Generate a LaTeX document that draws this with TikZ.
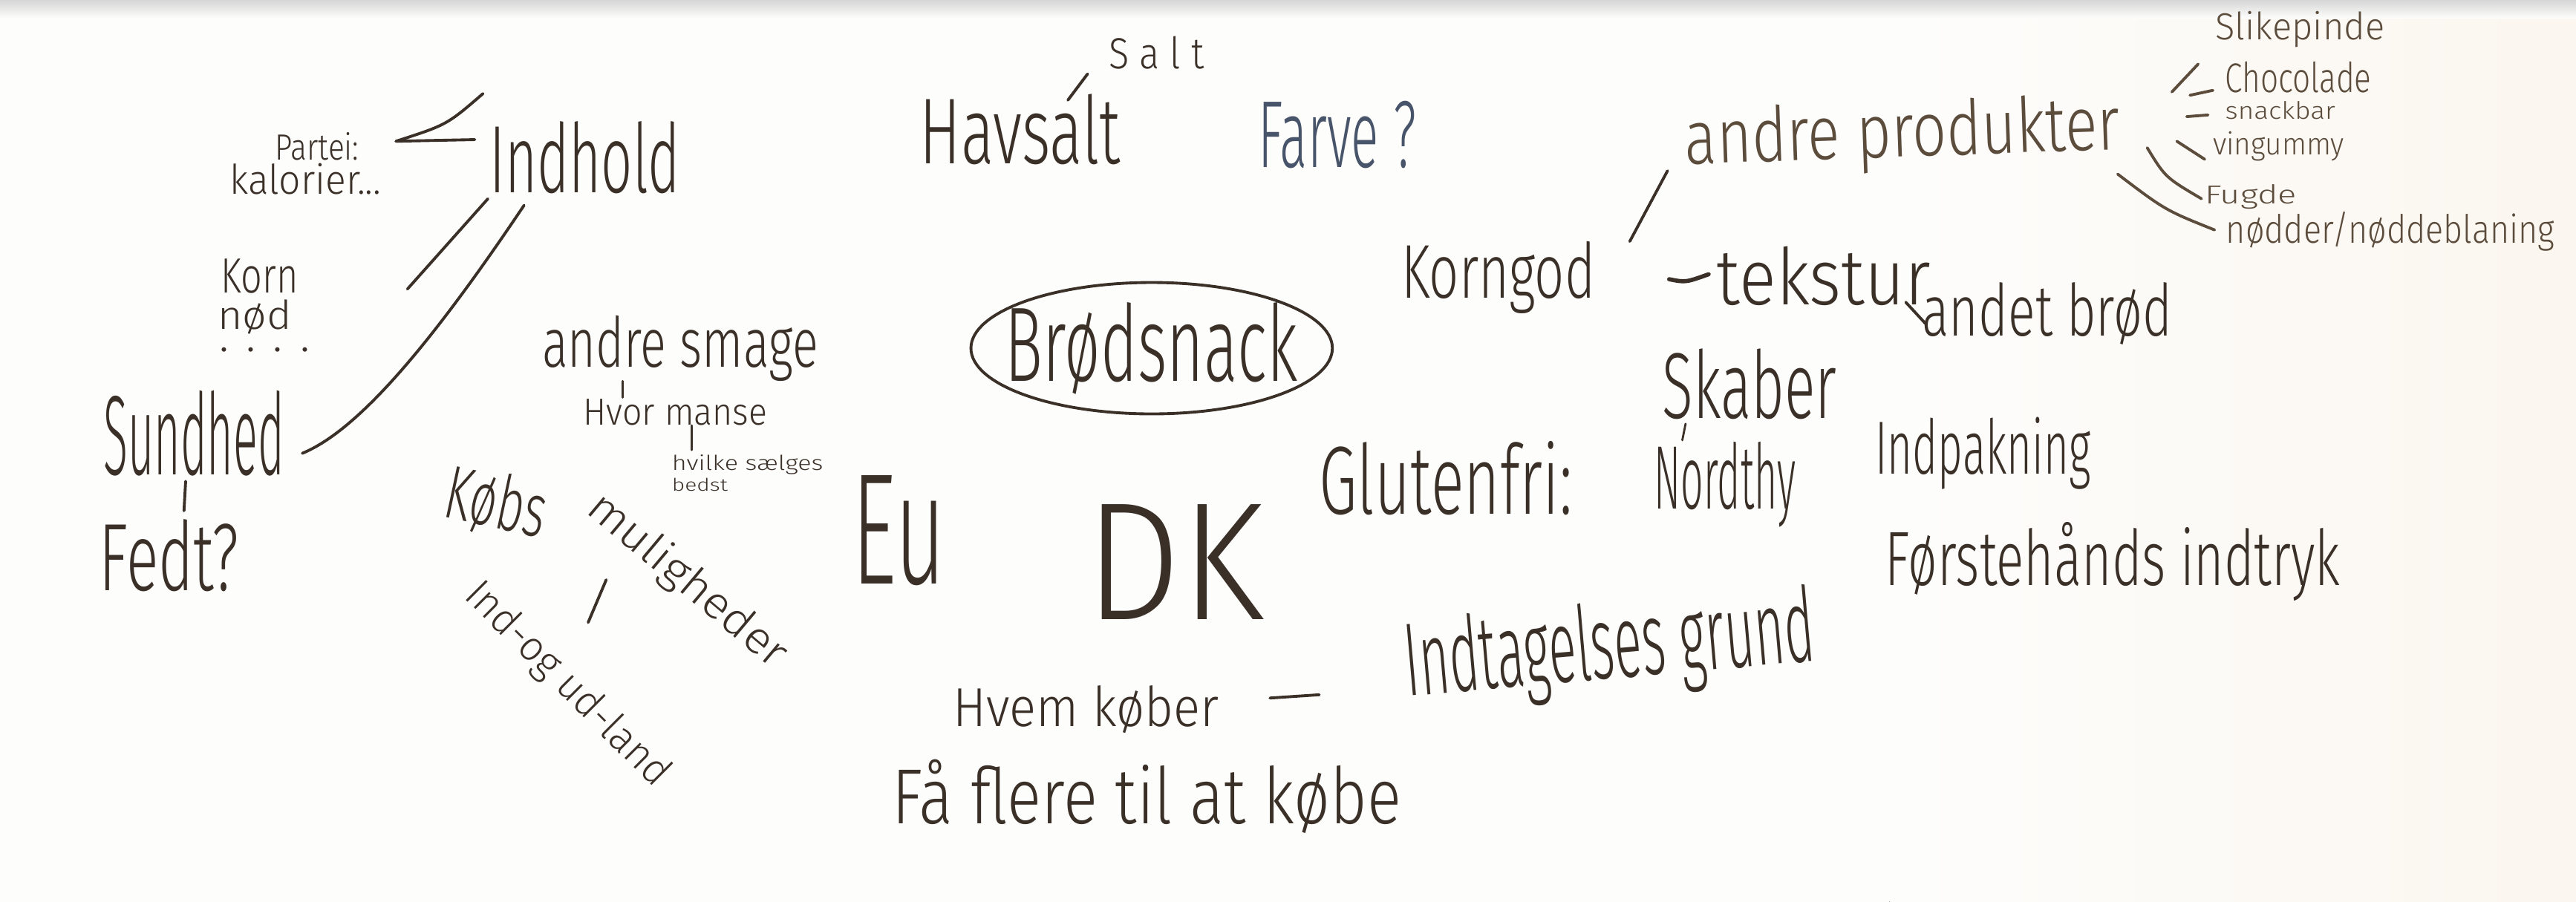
\documentclass[tikz,border=0pt]{standalone}
\usepackage{fontspec}
\newfontfamily\hand{Fira Sans Light}
\newdimen\pxu
\pxu=0.022124cm
% handwritten word fitted to a box of w x h (in board units)
\newcommand\hw[3]{\resizebox*{#1\pxu}{#2\pxu}{\hand #3}}
% fitted by width only, aspect kept
\newcommand\hwf[2]{\resizebox{#1\pxu}{!}{\hand #2}}
\definecolor{ink}{RGB}{58,48,40}
\definecolor{inkblue}{RGB}{72,84,106}
\definecolor{inklight}{RGB}{92,76,60}
\definecolor{board}{RGB}{253,253,252}
\definecolor{boardwarm}{RGB}{251,246,239}
\definecolor{frame}{RGB}{214,214,214}
\tikzset{
  word/.style={inner sep=0pt, outer sep=0pt, text=ink},
  wordlight/.style={word, text=inklight},
  pen/.style={draw=ink, line width=1.1pt, line cap=round, line join=round},
  penlight/.style={pen, draw=inklight},
}
\begin{document}
\begin{tikzpicture}[x=0.022124cm, y=-0.022124cm]
\useasboundingbox (0,0) rectangle (1568,549);
% board surface
\fill[board] (0,0) rectangle (1568,549);
\fill[left color=board, right color=boardwarm] (1150,10) rectangle (1568,549);
\fill[top color=frame, bottom color=board] (0,0) rectangle (1568,11);

% ---- centre ----
\node[word] (core) at (701,212) {\hw{178}{56}{Brødsnack}};
\draw[pen] (core.center) ellipse [x radius=110, y radius=40];

% ---- top middle ----
\node[word] (salt) at (704,32) {\hw{58}{20}{S a l t}};
\node[word] (havsalt) at (621,79) {\hw{122}{43}{Havsalt}};
\node[word, text=inkblue] (farve) at (814,82) {\hw{96}{41}{Farve ?}};
\coordinate (hs1) at (650,61); \coordinate (hs2) at (662,45);
\draw[pen] (hs1) -- (hs2);

% ---- Indhold branch ----
\node[word] (indhold) at (356,96) {\hw{116}{44}{Indhold}};
\node[word] (partei) at (193,89) {\hw{51}{17}{Partei:}};
\node[word] (kalorier) at (186,109) {\hw{92}{19}{kalorier...}};
\node[word] (korn) at (158,168) {\hw{47}{21}{Korn}};
\node[word] (nod) at (155,193) {\hw{45}{21}{nød}};
\node[word] (dots) at (161,213) {\hwf{55}{. . . .}};
\node[word] (sundhed) at (118,264) {\hw{110}{52}{Sundhed}};
\node[word] (fedt) at (103,338) {\hw{85}{44}{Fedt?}};
\coordinate (ia) at (294,57); \coordinate (ib) at (241,86); \coordinate (ic) at (289,85);
\draw[pen] (ia) .. controls (272,76) .. (ib) -- (ic);
\coordinate (id) at (297,121); \coordinate (ie) at (248,176);
\draw[pen] (id) -- (ie);
\coordinate (if) at (319,125); \coordinate (ig) at (184,276);
\draw[pen] (if) .. controls (262,210) and (218,262) .. (ig);
\coordinate (sf1) at (113,293); \coordinate (sf2) at (112,311);
\draw[pen] (sf1) -- (sf2);

% ---- andre smage branch ----
\node[word] (smage) at (414,212) {\hw{168}{40}{andre smage}};
\node[word] (hvormanse) at (411,251) {\hw{112}{16}{Hvor manse}};
\node[word] (hvilke) at (455,283) {\hw{92}{12}{hvilke sælges}};
\node[word] (bedst) at (426,295) {\hw{34}{8}{bedst}};
\coordinate (sm1) at (379,232); \coordinate (sm2) at (379,242);
\draw[pen, line width=0.8pt] (sm1) -- (sm2);
\coordinate (hm1) at (421,259); \coordinate (hm2) at (421,274);
\draw[pen, line width=0.8pt] (hm1) -- (hm2);

% ---- Købs muligheder ----
\node[word, rotate=-12] (kobs) at (302,307) {\hw{62}{40}{Købs}};
\node[word, rotate=-40] (muligheder) at (418,354) {\hw{150}{26}{muligheder}};
\node[word, rotate=-45] (indud) at (345,417) {\hw{165}{24}{Ind-og ud-land}};
\coordinate (km1) at (369,353); \coordinate (km2) at (358,379);
\draw[pen] (km1) -- (km2);

% ---- EU / DK ----
\node[word] (eu) at (547,323) {\hw{57}{67}{Eu}};
\node[word] (dk) at (715,342) {\hw{109}{70}{DK}};

% ---- bottom middle ----
\node[word] (hvem) at (661,432) {\hw{162}{29}{Hvem køber}};
\coordinate (hv1) at (773,425); \coordinate (hv2) at (803,423);
\draw[pen] (hv1) -- (hv2);
\node[word, rotate=5] (indtag) at (980,396) {\hw{250}{60}{Indtagelses grund}};
\node[word] (faa) at (698,485) {\hw{310}{45}{Få flere til at købe}};
\node[word] (gluten) at (880,291) {\hw{154}{45}{Glutenfri:}};

% ---- Korngod / tekstur ----
\node[word] (korngod) at (912,169) {\hw{118}{44}{Korngod}};
\node[word] (tekstur) at (1110,168) {\hw{130}{36}{tekstur}};
\node[word] (andet) at (1246,191) {\hw{152}{38}{andet brød}};
\coordinate (kg1) at (992,147); \coordinate (kg2) at (1015,104);
\draw[pen] (kg1) -- (kg2);
\coordinate (tk1) at (1016,170); \coordinate (tk2) at (1040,167);
\draw[pen, line width=1.6pt] (tk1) .. controls (1026,172) .. (tk2);
\coordinate (ab1) at (1160,184); \coordinate (ab2) at (1172,197);
\draw[pen] (ab1) -- (ab2);

% ---- andre produkter ----
\node[wordlight, rotate=2] (produkter) at (1158,83) {\hw{265}{44}{andre produkter}};
\node[wordlight] (slike) at (1400,18) {\hw{103}{22}{Slikepinde}};
\node[wordlight] (choco) at (1399,47) {\hw{89}{19}{Chocolade}};
\node[wordlight] (snackbar) at (1388,67) {\hw{67}{11}{snackbar}};
\node[wordlight] (vingummy) at (1387,89) {\hw{80}{18}{vingummy}};
\node[wordlight] (fugde) at (1370,120) {\hw{56}{15}{Fugde}};
\node[wordlight] (nodder) at (1455,141) {\hw{200}{24}{nødder/nøddeblaning}};
\coordinate (ap1) at (1322,56); \coordinate (ap2) at (1338,39);
\draw[penlight] (ap1) -- (ap2);
\coordinate (ap3) at (1333,58); \coordinate (ap4) at (1347,55);
\draw[penlight] (ap3) -- (ap4);
\coordinate (ap5) at (1331,71); \coordinate (ap6) at (1344,70);
\draw[penlight] (ap5) -- (ap6);
\coordinate (ap7) at (1325,86); \coordinate (ap8) at (1342,97);
\draw[penlight] (ap7) -- (ap8);
\coordinate (ap9) at (1307,90); \coordinate (ap10) at (1340,121);
\draw[penlight] (ap9) .. controls (1318,108) .. (ap10);
\coordinate (ap11) at (1289,106); \coordinate (ap12) at (1348,140);
\draw[penlight] (ap11) .. controls (1318,128) .. (ap12);

% ---- Skaber / Nordthy / right column ----
\node[word] (skaber) at (1065,234) {\hw{106}{43}{Skaber}};
\node[word] (nordthy) at (1050,295) {\hw{86}{52}{Nordthy}};
\coordinate (sn1) at (1026,258); \coordinate (sn2) at (1024,268);
\draw[pen, line width=0.8pt] (sn1) -- (sn2);
\node[word] (indpak) at (1207,276) {\hw{131}{44}{Indpakning}};
\node[word] (forste) at (1286,342) {\hw{277}{48}{Førstehånds indtryk}};
\end{tikzpicture}
\end{document}
